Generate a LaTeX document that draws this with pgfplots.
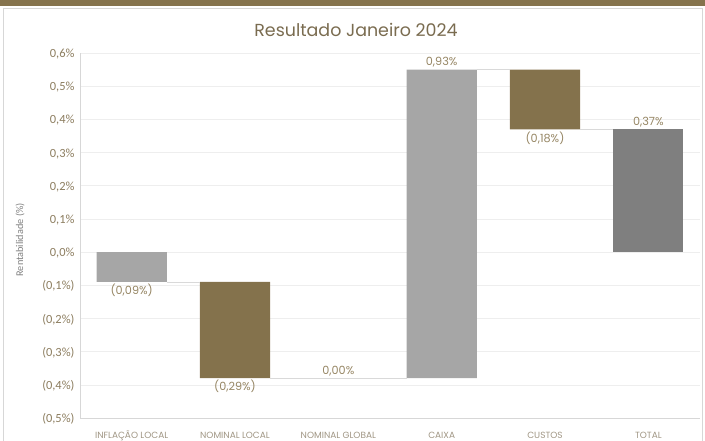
\documentclass[border=0pt]{standalone}
\usepackage{pgfplots}
\pgfplotsset{compat=1.18}
\usepackage{fontspec}
\setmainfont{Poppins}
\newfontfamily\carlito{Carlito}
\definecolor{band}{RGB}{133,115,77}
\definecolor{lgray}{RGB}{166,166,166}
\definecolor{dgray}{RGB}{127,127,127}
\definecolor{brownbar}{RGB}{132,114,76}
\definecolor{tan}{RGB}{140,125,95}
\definecolor{titlec}{RGB}{122,108,80}
\definecolor{catc}{RGB}{160,150,132}
\definecolor{lblc}{RGB}{150,134,100}
\definecolor{gridc}{RGB}{238,238,238}
\definecolor{axc}{RGB}{215,215,215}
\definecolor{conc}{RGB}{217,217,217}
\begin{document}
\begin{tikzpicture}
\path[use as bounding box] (0,0) rectangle (705bp,441bp);
\fill[band] (0,435bp) rectangle (705bp,441bp);
\draw[axc, line width=0.6bp] (3bp,-1bp) -- (3bp,433bp) -- (702bp,433bp) -- (702bp,-1bp);
\node[text=titlec, font=\fontsize{17.5}{20}\selectfont, anchor=base] at (356bp,404bp) {Resultado Janeiro 2024};
\pgfplotsset{
  wfall/.style={
    at={(80bp,23bp)}, anchor=south west,
    scale only axis, width=620bp, height=365bp,
    xmin=-0.5, xmax=5.5, ymin=-0.5, ymax=0.6,
  }
}
\begin{axis}[wfall,
  ybar stacked, stack negative=on previous, bar width=0.68,
  axis x line*=bottom, axis y line*=left,
  axis line style={axc, line width=0.6bp},
  xtick={0,1,2,3,4,5},
  xticklabels={INFLAÇÃO LOCAL, NOMINAL LOCAL, NOMINAL GLOBAL, CAIXA, CUSTOS, TOTAL},
  xticklabel style={text=catc, font=\fontsize{9}{10}\selectfont, anchor=base, yshift=-20.5bp},
  ytick={-0.5,-0.4,-0.3,-0.2,-0.1,0,0.1,0.2,0.3,0.4,0.5,0.6},
  yticklabels={{(0,5\%)},{(0,4\%)},{(0,3\%)},{(0,2\%)},{(0,1\%)},{0,0\%},{0,1\%},{0,2\%},{0,3\%},{0,4\%},{0,5\%},{0,6\%}},
  yticklabel style={text=tan, font=\carlito\fontsize{12.5}{14}\selectfont, xshift=-2bp, yshift=-1bp},
  major tick length=0pt,
  ymajorgrids, grid style={gridc, line width=0.6bp},
  ylabel={Rentabilidade (\%)},
  every axis y label/.style={at={(rel axis cs:-0.0968,0.488)}, rotate=90, anchor=center,
    text=dgray, font=\carlito\fontsize{10.3}{12}\selectfont},
]
\addplot[draw=none, fill=none] coordinates {(0,0) (1,-0.09) (2,-0.38) (3,-0.38) (4,0.55) (5,0)};
\addplot[draw=none, fill=lgray] coordinates {(0,-0.09) (1,0) (2,0) (3,0.93) (4,0) (5,0)};
\addplot[draw=none, fill=brownbar] coordinates {(0,0) (1,-0.29) (2,0) (3,0) (4,-0.18) (5,0)};
\addplot[draw=none, fill=dgray] coordinates {(0,0) (1,0) (2,0) (3,0) (4,0) (5,0.37)};
\end{axis}
\begin{axis}[wfall, hide axis]
\addplot[conc, line width=0.8bp] coordinates {(0.34,-0.09) (0.66,-0.09)};
\addplot[conc, line width=0.8bp] coordinates {(1.34,-0.38) (2.66,-0.38)};
\addplot[conc, line width=0.8bp] coordinates {(3.34,0.55) (3.66,0.55)};
\addplot[conc, line width=0.8bp] coordinates {(4.34,0.37) (4.66,0.37)};
\begin{scope}[every node/.style={text=lblc, font=\fontsize{11.3}{13}\selectfont, inner sep=2bp}]
\node[below] at (axis cs:0,-0.09) {(0,09\%)};
\node[below] at (axis cs:1,-0.38) {(0,29\%)};
\node[above] at (axis cs:2,-0.38) {0,00\%};
\node[above] at (axis cs:3,0.55) {0,93\%};
\node[below] at (axis cs:4,0.37) {(0,18\%)};
\node[above] at (axis cs:5,0.37) {0,37\%};
\end{scope}
\end{axis}
\end{tikzpicture}
\end{document}
